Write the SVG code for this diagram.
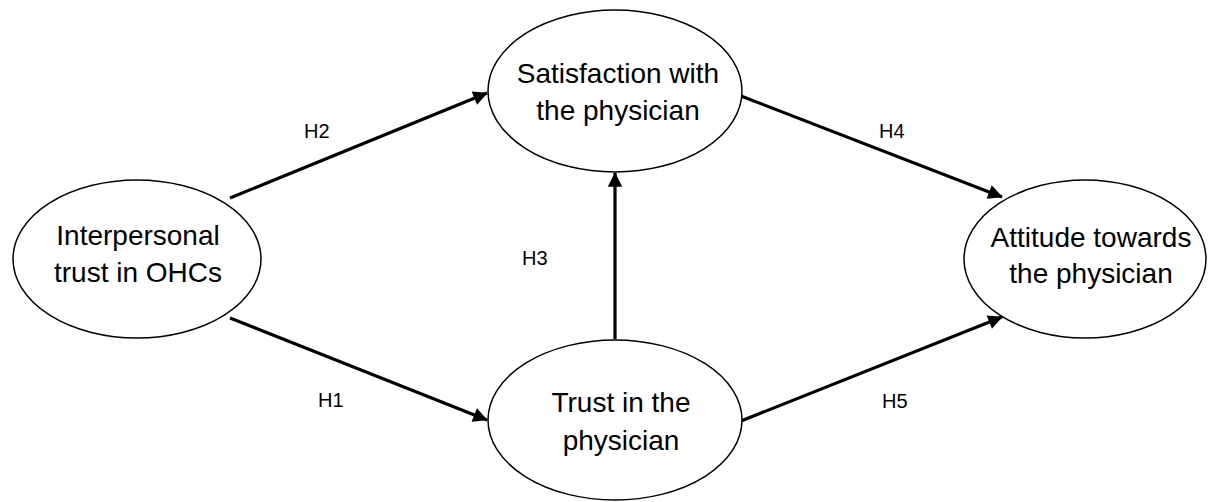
<svg xmlns="http://www.w3.org/2000/svg" width="1210" height="502" viewBox="0 0 1210 502">
<style>
.node ellipse{fill:#fff;stroke:#000;stroke-width:1.5}
.node text{font-family:"Liberation Sans",Arial,sans-serif;font-size:28px;fill:#000;text-anchor:middle}
.lbl{font-family:"Liberation Sans",Arial,sans-serif;font-size:20px;fill:#000}
.conn line{stroke:#000;stroke-width:3.2;marker-end:url(#ah)}
</style>
<defs>
<marker id="ah" viewBox="0 0 10 10" refX="9.5" refY="5" markerWidth="5" markerHeight="4.5" orient="auto" markerUnits="strokeWidth">
<path d="M0,0 L10,5 L0,10 z" fill="#000"/>
</marker>
</defs>
<rect width="1210" height="502" fill="#fff"/>
<g id="connectors" class="conn">
<line x1="230" y1="198" x2="487" y2="93"/>
<line x1="230" y1="318" x2="487" y2="420"/>
<line x1="615" y1="339" x2="615" y2="173"/>
<line x1="741" y1="96" x2="1002" y2="197"/>
<line x1="741" y1="421" x2="1002" y2="317"/>
</g>
<g id="labels">
<text class="lbl" x="304" y="138">H2</text>
<text class="lbl" x="879" y="138">H4</text>
<text class="lbl" x="522" y="265">H3</text>
<text class="lbl" x="318" y="407">H1</text>
<text class="lbl" x="882" y="408">H5</text>
</g>
<g id="n_interpersonal" class="node">
<ellipse cx="137" cy="259" rx="124" ry="79"/>
<text x="138" y="245">Interpersonal</text>
<text x="138" y="282">trust in OHCs</text>
</g>
<g id="n_satisfaction" class="node">
<ellipse cx="615" cy="91" rx="127" ry="81"/>
<text x="618" y="83">Satisfaction with</text>
<text x="618" y="120">the physician</text>
</g>
<g id="n_trust" class="node">
<ellipse cx="615" cy="420" rx="127" ry="80"/>
<text x="621" y="412">Trust in the</text>
<text x="621" y="450">physician</text>
</g>
<g id="n_attitude" class="node">
<ellipse cx="1085" cy="259" rx="121" ry="79"/>
<text x="1091" y="247">Attitude towards</text>
<text x="1091" y="283">the physician</text>
</g>
</svg>
